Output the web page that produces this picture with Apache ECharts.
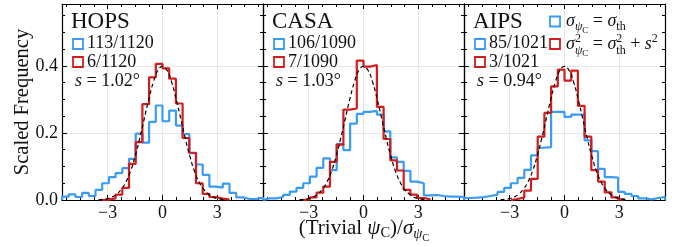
<!DOCTYPE html>
<html>
<head>
<meta charset="utf-8">
<script src="https://cdn.jsdelivr.net/npm/echarts@6/dist/echarts.min.js"></script>
<style>
  html, body { margin: 0; padding: 0; background: #fff; }
  #chart { width: 689px; height: 246px; }
</style>
</head>
<body>
<div id="chart"></div>
<script>
// histogram binning (equal bins over the x range)
var binMin = -5.5, binMax = 5.5, binCount = 30;

var panelNames = ['HOPS', 'CASA', 'AIPS'];
var blueCounts = ['113/1120', '106/1090', '85/1021'];
var redCounts = ['6/1120', '7/1090', '3/1021'];
var sValues = ['1.02', '1.03', '0.94'];

// scaled frequency per bin
var hopsBlue = [0.010, 0.017, 0.009, 0.021, 0.012, 0.030, 0.050, 0.068, 0.080, 0.095, 0.123, 0.198, 0.171, 0.233, 0.282,
  0.235, 0.267, 0.222, 0.197, 0.140, 0.106, 0.075, 0.040, 0.037, 0.049, 0.021, 0.008, 0.003, 0.003, 0.007];
var hopsRed = [0, 0, 0, 0, 0, 0, 0.001, 0.005, 0.016, 0.036, 0.108, 0.173, 0.286, 0.366, 0.406,
  0.393, 0.362, 0.288, 0.185, 0.141, 0.050, 0.018, 0.009, 0.004, 0.001, 0, 0, 0, 0, 0];
var casaBlue = [0.005, 0.005, 0.009, 0.015, 0.025, 0.036, 0.050, 0.070, 0.096, 0.124, 0.089, 0.167, 0.149, 0.228, 0.257,
  0.263, 0.266, 0.255, 0.205, 0.127, 0.114, 0.087, 0.055, 0.050, 0.014, 0.015, 0.012, 0.010, 0.010, 0.009];
var casaRed = [0, 0, 0, 0, 0, 0, 0.002, 0.008, 0.022, 0.040, 0.114, 0.165, 0.270, 0.273, 0.416,
  0.398, 0.403, 0.278, 0.182, 0.118, 0.088, 0.030, 0.016, 0.006, 0.002, 0, 0, 0, 0, 0];
var aipsBlue = [0.006, 0.007, 0.009, 0.012, 0.016, 0.024, 0.036, 0.050, 0.066, 0.090, 0.133, 0.156, 0.158, 0.263, 0.263,
  0.248, 0.255, 0.255, 0.178, 0.146, 0.093, 0.068, 0.067, 0.024, 0.018, 0.012, 0.005, 0.002, 0.006, 0.009];
var aipsRed = [0, 0, 0, 0, 0, 0, 0, 0.003, 0.008, 0.028, 0.063, 0.189, 0.260, 0.339, 0.389,
  0.356, 0.386, 0.281, 0.189, 0.089, 0.055, 0.023, 0.008, 0.002, 0, 0, 0, 0, 0, 0];

// dashed reference curve
var gaussX = [-3.5, -3.25, -3, -2.75, -2.5, -2.25, -2, -1.75, -1.5, -1.25, -1, -0.75, -0.5, -0.25, 0,
  0.25, 0.5, 0.75, 1, 1.25, 1.5, 1.75, 2, 2.25, 2.5, 2.75, 3, 3.25, 3.5];
var gaussY = [0.001, 0.002, 0.004, 0.009, 0.018, 0.032, 0.054, 0.086, 0.130, 0.183, 0.242, 0.301, 0.352, 0.387, 0.399,
  0.387, 0.352, 0.301, 0.242, 0.183, 0.130, 0.086, 0.054, 0.032, 0.018, 0.009, 0.004, 0.002, 0.001];

var xMajorTicks = [-3, 0, 3];
var xMinorTicks = [-5.25, -4.5, -3.75, -2.25, -1.5, -0.75, 0.75, 1.5, 2.25, 3.75, 4.5, 5.25];
var yMajorTicks = [0, 0.2, 0.4];
var yMinorTicks = [0.05, 0.1, 0.15, 0.25, 0.3, 0.35, 0.45, 0.5, 0.55];

var blueData = [hopsBlue, casaBlue, aipsBlue];
var redData = [hopsRed, casaRed, aipsRed];

var BLUE = '#3a9bf7', RED = '#d41c1c', INK = '#111';
var FONT = '"Liberation Serif", "DejaVu Serif", serif';
var panelLeft = [62, 263, 464], panelWidth = 201, panelTop = 4, panelHeight = 196;

var measureCtx = document.createElement('canvas').getContext('2d');
function textW(str, size, italic) {
  measureCtx.font = (italic ? 'italic ' : '') + size + 'px ' + FONT;
  return measureCtx.measureText(str).width;
}

// pieces: [text, size, italic, rise, stay]
function mathLine(x, base, pieces, center) {
  var items = [], pos = 0;
  pieces.forEach(function (p) {
    items.push({ t: p[0], size: p[1], it: p[2], rise: p[3] || 0, dx: pos });
    if (!p[4]) pos += textW(p[0], p[1], p[2]);
  });
  var x0 = center ? x - pos / 2 : x;
  return items.map(function (m) {
    return {
      type: 'text', x: x0 + m.dx, y: base - m.rise - 0.305 * m.size, z: 10, silent: true,
      style: {
        text: m.t, fontSize: m.size, fontFamily: FONT, fontStyle: m.it ? 'italic' : 'normal',
        fill: INK, align: 'left', verticalAlign: 'middle'
      }
    };
  });
}

function stepData(vals) {
  var w = (binMax - binMin) / binCount;
  var first = 0, last = vals.length - 1;
  while (first < last && vals[first] === 0) first++;
  while (last > first && vals[last] === 0) last--;
  var pts = [[binMin + first * w, 0]];
  for (var i = first; i <= last; i++) pts.push([binMin + i * w, vals[i]]);
  pts.push([binMin + (last + 1) * w, vals[last]]);
  pts.push([binMin + (last + 1) * w, 0]);
  return pts;
}

function fmtX(v) { return v < 0 ? '\u2212' + (-v) : '' + v; }

function xAxisOf(g, pos, ticks, len, major, labels) {
  return {
    type: 'value', gridIndex: g, position: pos, min: binMin, max: binMax,
    axisLine: { show: major, onZero: false, lineStyle: { color: '#000', width: 1.2 } },
    axisTick: { show: true, inside: true, length: len, customValues: ticks, lineStyle: { color: '#000', width: 1 } },
    axisLabel: { show: labels, customValues: ticks, margin: 4, formatter: fmtX, color: INK, fontFamily: FONT, fontSize: 18 },
    splitLine: { show: labels, lineStyle: { color: '#e6e6e6', width: 1 } }
  };
}
function yAxisOf(g, pos, ticks, len, major, labels, grid) {
  return {
    type: 'value', gridIndex: g, position: pos, min: 0, max: 0.585,
    axisLine: { show: major, onZero: false, lineStyle: { color: '#000', width: 1.2 } },
    axisTick: { show: true, inside: true, length: len, customValues: ticks, lineStyle: { color: '#000', width: 1 } },
    axisLabel: { show: labels, customValues: ticks, margin: 4, formatter: function (v) { return v.toFixed(1); }, color: INK, fontFamily: FONT, fontSize: 18 },
    splitLine: { show: grid, lineStyle: { color: '#e6e6e6', width: 1 } }
  };
}

var grids = [], xAxes = [], yAxes = [], series = [], graphics = [];

panelNames.forEach(function (name, p) {
  var L = panelLeft[p];
  grids.push({ left: L, top: panelTop, width: panelWidth, height: panelHeight, outerBoundsMode: 'none', containLabel: false });

  xAxes.push(xAxisOf(p, 'bottom', xMajorTicks, 5, true, true));
  xAxes.push(xAxisOf(p, 'bottom', xMinorTicks, 3, false, false));
  xAxes.push(xAxisOf(p, 'top', xMajorTicks, 5, true, false));
  xAxes.push(xAxisOf(p, 'top', xMinorTicks, 3, false, false));

  yAxes.push(yAxisOf(p, 'left', yMajorTicks, 5, true, p === 0, true));
  yAxes.push(yAxisOf(p, 'left', yMinorTicks, 3, false, false, false));
  yAxes.push(yAxisOf(p, 'right', yMajorTicks, 5, true, false, false));
  yAxes.push(yAxisOf(p, 'right', yMinorTicks, 3, false, false, false));

  series.push({
    type: 'line', xAxisIndex: 4 * p, yAxisIndex: 4 * p, step: 'end', showSymbol: false, z: 2,
    data: stepData(blueData[p]), lineStyle: { color: BLUE, width: 2.2 }
  });
  series.push({
    type: 'line', xAxisIndex: 4 * p, yAxisIndex: 4 * p, step: 'end', showSymbol: false, z: 3,
    data: stepData(redData[p]), lineStyle: { color: RED, width: 2.2 }
  });
  series.push({
    type: 'line', xAxisIndex: 4 * p, yAxisIndex: 4 * p, smooth: true, showSymbol: false, z: 4,
    data: gaussX.map(function (x, i) { return [x, gaussY[i]]; }),
    lineStyle: { color: '#000', width: 1.2, type: [4, 3] }
  });

  // in-panel labels
  graphics = graphics.concat(mathLine(L + 9, 28.5, [[name, 23, false]]));
  graphics.push({ type: 'rect', z: 10, silent: true, shape: { x: L + 11, y: 39, width: 10, height: 10 }, style: { fill: 'none', stroke: BLUE, lineWidth: 1.8 } });
  graphics.push({ type: 'rect', z: 10, silent: true, shape: { x: L + 11, y: 57, width: 10, height: 10 }, style: { fill: 'none', stroke: RED, lineWidth: 1.8 } });
  graphics = graphics.concat(mathLine(L + 25, 49, [[blueCounts[p], 18, false]]));
  graphics = graphics.concat(mathLine(L + 25, 67.3, [[redCounts[p], 18, false]]));
  graphics = graphics.concat(mathLine(L + 13, 87, [['s', 18, true], [' = ' + sValues[p] + '\u00b0', 18, false]]));
});

// legend on the right panel
graphics.push({ type: 'rect', z: 10, silent: true, shape: { x: 550, y: 16.5, width: 10, height: 10 }, style: { fill: 'none', stroke: BLUE, lineWidth: 1.8 } });
graphics.push({ type: 'rect', z: 10, silent: true, shape: { x: 550, y: 39, width: 10, height: 10 }, style: { fill: 'none', stroke: RED, lineWidth: 1.8 } });
graphics = graphics.concat(mathLine(566, 27, [
  ['\u03c3', 18, true], ['\u03c8', 12, true, -4], ['C', 9, false, -6], [' = ', 18, false],
  ['\u03c3', 18, true], ['th', 12, false, -4]
]));
graphics = graphics.concat(mathLine(566, 49.5, [
  ['\u03c3', 18, true], ['2', 12, false, 7, true], ['\u03c8', 12, true, -5], ['C', 9, false, -7], [' = ', 18, false],
  ['\u03c3', 18, true], ['2', 12, false, 7, true], ['th', 12, false, -5], [' + ', 18, false],
  ['s', 18, true], ['2', 12, false, 7]
]));

// axis titles
graphics = graphics.concat(mathLine(364, 235, [
  ['(Trivial ', 21, false], ['\u03c8', 21, true], ['C', 14.5, false, -3], [')/', 21, false],
  ['\u03c3', 21, true], ['\u03c8', 14.5, true, -4], ['C', 10.5, false, -6]
], true));
graphics.push({
  type: 'text', x: 23, y: 102, rotation: Math.PI / 2, z: 10, silent: true,
  style: { text: 'Scaled Frequency', fontSize: 20.5, fontFamily: FONT, fill: INK, align: 'center', verticalAlign: 'middle' }
});

var chart = echarts.init(document.getElementById('chart'));
chart.setOption({
  backgroundColor: '#fff',
  animation: false,
  textStyle: { fontFamily: FONT },
  grid: grids,
  xAxis: xAxes,
  yAxis: yAxes,
  series: series,
  graphic: graphics
});
</script>
</body>
</html>
